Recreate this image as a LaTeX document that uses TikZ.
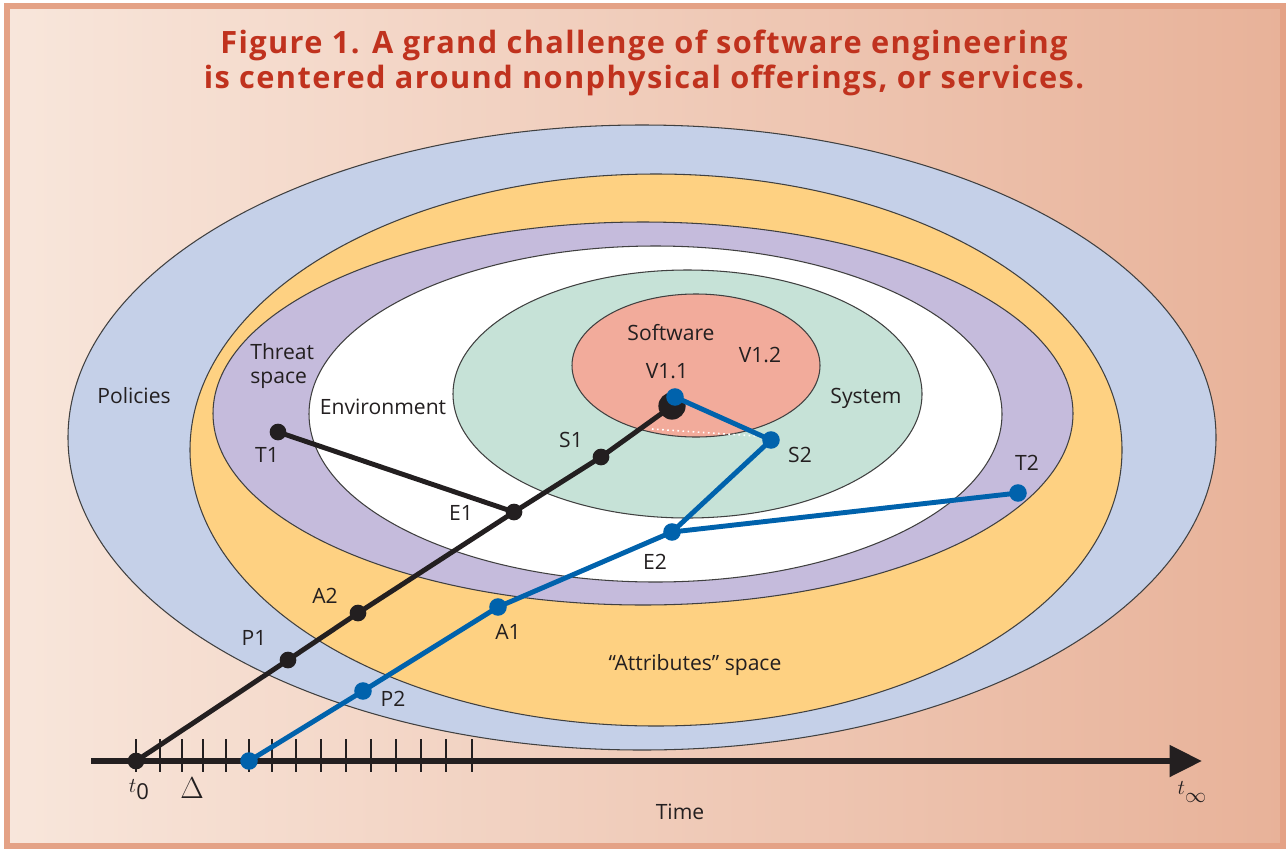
\documentclass[tikz,border=0pt]{standalone}
\usepackage{fontspec}
\setmainfont{Open Sans}
\usetikzlibrary{arrows.meta}
\definecolor{inkblack}{RGB}{35,31,32}
\definecolor{pathblue}{RGB}{0,98,172}
\definecolor{titlered}{RGB}{192,50,30}
\definecolor{policyblue}{RGB}{197,208,232}
\definecolor{attribyellow}{RGB}{254,209,130}
\definecolor{threatlilac}{RGB}{197,187,220}
\definecolor{systemgreen}{RGB}{198,226,215}
\definecolor{softsalmon}{RGB}{242,171,155}
\definecolor{paperleft}{RGB}{248,230,219}
\definecolor{paperright}{RGB}{232,178,153}
\definecolor{framepink}{RGB}{228,162,134}
\tikzset{
  zone/.style={draw=black!75, line width=0.6pt},
  blackpath/.style={line width=2.8pt, inkblack, line cap=round},
  bluepath/.style={line width=2.8pt, pathblue, line cap=round},
  blackdot/.style={circle, fill=inkblack, inner sep=0pt, minimum size=9.5pt},
  bluedot/.style={circle, fill=pathblue, inner sep=0pt, minimum size=10pt},
  lbl/.style={font=\fontsize{12}{14}\selectfont, text=inkblack, inner sep=0pt},
  mathlbl/.style={font=\fontsize{12.5}{14}\selectfont, text=inkblack, inner sep=0pt},
  tickmark/.style={line width=0.8pt, inkblack},
  timeaxis/.style={line width=3.4pt, inkblack, -{Triangle[length=18.5pt, width=17.5pt]}}
}
\begin{document}
\begin{tikzpicture}[x=0.2mm, y=-0.2mm]
  \useasboundingbox (0,0) rectangle (1286,848);
  \fill[white] (0,0) rectangle (1286,848);
  \shade[left color=paperleft, right color=paperright] (7,6) rectangle (1283,846);
  \draw[framepink, line width=3pt] (7,6) rectangle (1283,846);

  \node[font=\fontsize{17.5}{20}\selectfont\bfseries\addfontfeature{LetterSpace=4.5}, text=titlered, align=center] (title) at (644,63)
    {Figure 1. A grand challenge of software engineering\\is centered around nonphysical offerings, or services.};

  \draw[zone, fill=policyblue] (642,437.5) ellipse [x radius=574, y radius=312.5];
  \draw[zone, fill=attribyellow] (656,450) ellipse [x radius=466, y radius=276];
  \draw[zone, fill=threatlilac] (643,413.5) ellipse [x radius=430, y radius=191.5];
  \draw[zone, fill=white] (655.5,414) ellipse [x radius=346.5, y radius=168];
  \draw[zone, fill=systemgreen] (687.5,394) ellipse [x radius=234.5, y radius=124];
  \draw[zone, fill=softsalmon] (696,365.5) ellipse [x radius=124, y radius=71.5];

  \coordinate (chordl) at (652,429);
  \coordinate (chordr) at (756,436);
  \draw[white, dotted, line width=0.9pt] (chordl) -- (chordr);

  \node[lbl] (software) at (671,333) {Software};
  \node[lbl] (v11lbl) at (667,371) {V1.1};
  \node[lbl] (v12lbl) at (760,355) {V1.2};
  \node[lbl] (system) at (866,398) {System};
  \node[lbl] (environment) at (383,407) {Environment};
  \node[lbl, align=left, anchor=west] (threat) at (250,366) {Threat\\space};
  \node[lbl] (policies) at (134,396) {Policies};
  \node[lbl] (attributes) at (695,665) {“Attributes” space};
  \node[lbl] (s1lbl) at (571,440) {S1};
  \node[lbl] (s2lbl) at (800,455) {S2};
  \node[lbl] (t1lbl) at (267,455) {T1};
  \node[lbl] (t2lbl) at (1027,463) {T2};
  \node[lbl] (e1lbl) at (461,513) {E1};
  \node[lbl] (e2lbl) at (655,562) {E2};
  \node[lbl] (a2lbl) at (325,596) {A2};
  \node[lbl] (a1lbl) at (508,632) {A1};
  \node[lbl] (p1lbl) at (254,638) {P1};
  \node[lbl] (p2lbl) at (393,699) {P2};
  \node[lbl] (time) at (680,812) {Time};

  \coordinate (axstart) at (91,761);
  \coordinate (axend) at (1202,761);
  \draw[timeaxis] (axstart) -- (axend);
  \foreach \x in {136,160,182,203,226,249,272,296,321,346,371,396,421,446,472}
    \draw[tickmark] (\x,739) -- (\x,772);
  \node[mathlbl] (t0lbl) at (139,790) {$t$\raisebox{-0.6ex}{0}};
  \node[mathlbl, font=\fontsize{16}{18}\selectfont] (deltalbl) at (192,788) {$\Delta$};
  \node[mathlbl] (tinflbl) at (1192,792) {$t$\raisebox{-0.6ex}{$\infty$}};

  \node[blackdot] (t0) at (136,761) {};
  \node[blackdot] (p1) at (288,660) {};
  \node[blackdot] (a2) at (358,613) {};
  \node[blackdot] (e1) at (514,512) {};
  \node[blackdot] (s1) at (601,457) {};
  \node[blackdot] (t1) at (278,432) {};
  \node[blackdot, minimum size=15.5pt] (v11) at (672,406) {};
  \draw[blackpath] (t0.center) -- (p1.center) -- (a2.center) -- (e1.center) -- (s1.center) -- (v11.center);
  \draw[blackpath] (t1.center) -- (e1.center);

  \node[bluedot] (tb) at (249,761) {};
  \node[bluedot] (p2) at (363,691) {};
  \node[bluedot] (a1) at (498,607) {};
  \node[bluedot] (e2) at (672,532) {};
  \node[bluedot] (s2) at (771,440) {};
  \node[bluedot] (t2) at (1018,493) {};
  \node[bluedot] (v11b) at (675,397) {};
  \draw[bluepath] (tb.center) -- (p2.center) -- (a1.center) -- (e2.center) -- (s2.center) -- (v11b.center);
  \draw[bluepath] (t2.center) -- (e2.center);
\end{tikzpicture}
\end{document}
